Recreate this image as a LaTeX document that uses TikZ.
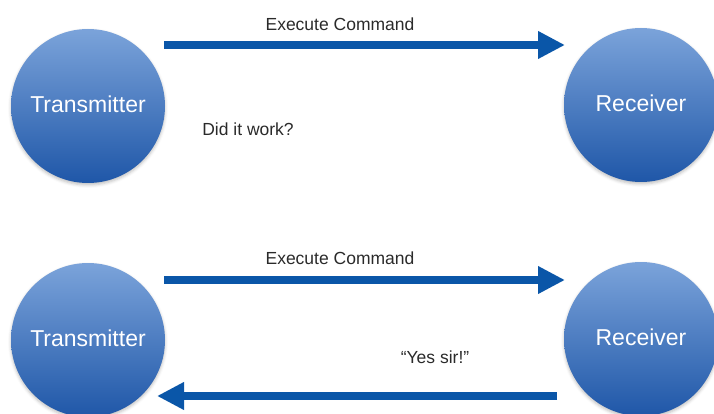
\documentclass[tikz,border=0pt]{standalone}
\usepackage{fontspec}
\setmainfont{Liberation Sans}
\usetikzlibrary{arrows.meta,shadows.blur}
\definecolor{circtop}{HTML}{7BA3DA}
\definecolor{circbot}{HTML}{1F57A8}
\definecolor{arrowblue}{HTML}{0A56A8}
\definecolor{labelgray}{HTML}{2A2A2A}
\tikzset{
  party/.style={circle, minimum size=154pt, inner sep=0pt,
    top color=circtop, bottom color=circbot, draw=none,
    text=white, font=\fontsize{23}{26}\selectfont,
    blur shadow={shadow xshift=0pt, shadow yshift=-2pt, shadow blur radius=3pt, shadow opacity=25}},
  msg/.style={line width=8.5pt, draw=arrowblue,
    -{Triangle[length=27pt,width=26pt]}},
  caption/.style={text=labelgray, font=\fontsize{17.5}{20}\selectfont, inner sep=0pt}
}
% circle labels sit a little above the disc centre
\newcommand{\partyname}[1]{\raisebox{3.5pt}{#1}}
\begin{document}
\begin{tikzpicture}[x=1pt,y=-1pt]
  \useasboundingbox (0,0) rectangle (714,414);

  % upper exchange: command sent, no answer
  \node[party] (tx1) at (88,106) {\partyname{Transmitter}};
  \node[party] (rx1) at (641,105) {\partyname{Receiver}};
  \coordinate (c1s) at (164,45);
  \coordinate (c1e) at (565,45);
  \draw[msg] (c1s) -- (c1e);
  \node[caption] (cmd1) at (340,24) {Execute Command};
  \node[caption] (ask) at (248,129) {Did it work?};

  % lower exchange: command sent and acknowledged
  \node[party] (tx2) at (88,340) {\partyname{Transmitter}};
  \node[party] (rx2) at (641,339) {\partyname{Receiver}};
  \coordinate (c2s) at (164,280);
  \coordinate (c2e) at (565,280);
  \draw[msg] (c2s) -- (c2e);
  \node[caption] (cmd2) at (340,258) {Execute Command};
  \coordinate (r2s) at (557,396);
  \coordinate (r2e) at (157,396);
  \draw[msg] (r2s) -- (r2e);
  \node[caption] (ack) at (435,357) {``Yes sir!''};
\end{tikzpicture}
\end{document}
